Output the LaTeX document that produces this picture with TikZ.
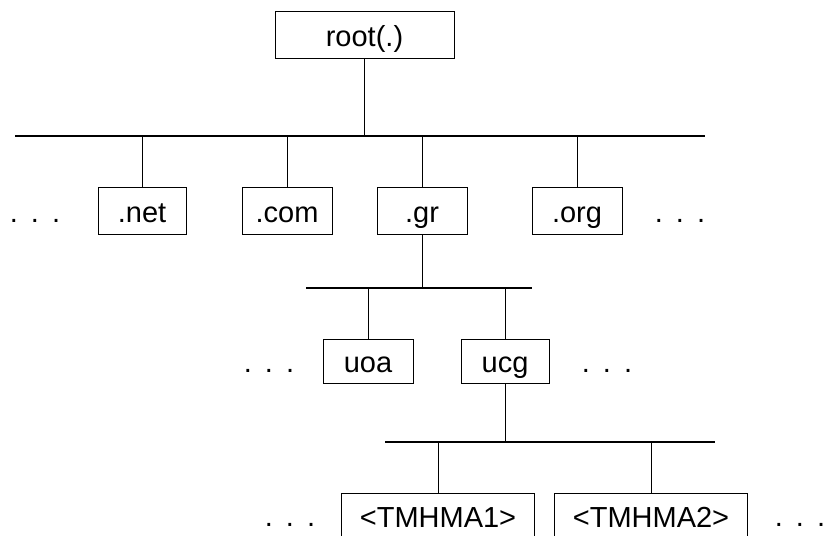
\documentclass[tikz,border=0pt]{standalone}
\usepackage{fontspec}
\setmainfont{Liberation Sans}
\usepackage{tikz}

\begin{document}
\begin{tikzpicture}[x=1pt,y=-1pt,
        dom/.style={draw,line width=1pt,minimum width=90pt,minimum height=47pt,inner sep=0pt,text height=24pt,text depth=2pt,font=\fontsize{29}{34}\selectfont},
        more/.style={inner sep=0pt,anchor=base,font=\fontsize{29}{34}\selectfont},
        bus/.style={line width=1.5pt},
        stem/.style={line width=0.9pt}]
        \useasboundingbox (0,0) rectangle (834,535);
        % root
        \node[dom,minimum width=179pt,minimum height=46pt] (root) at (364.5,35) {root(.)};
        \coordinate (b0l) at (15,136);
        \coordinate (b0r) at (705,136);
        \draw[bus] (b0l) -- (b0r);
        \draw[stem] (root) -- (root |- b0l);
        % top level
        \node[more] (dots0) at (35,222) {.\hspace{13pt}.\hspace{13pt}.};
        \node[dom,minimum width=88pt] (net) at (142,211) {.net};
        \node[dom] (com) at (287,211) {.com};
        \node[dom] (gr) at (422,211) {.gr};
        \node[dom] (org) at (577,211) {.org};
        \node[more] (dots1) at (680,222) {.\hspace{13pt}.\hspace{13pt}.};
        \draw[stem] (net) -- (net |- b0l);
        \draw[stem] (com) -- (com |- b0l);
        \draw[stem] (gr) -- (gr |- b0l);
        \draw[stem] (org) -- (org |- b0l);
        % .gr
        \coordinate (b1l) at (306,288);
        \coordinate (b1r) at (532,288);
        \draw[bus] (b1l) -- (b1r);
        \draw[stem] (gr) -- (gr |- b1l);
        \node[more] (dots2) at (269,372) {.\hspace{13pt}.\hspace{13pt}.};
        \node[dom,minimum height=44pt] (uoa) at (368,361) {uoa};
        \node[dom,minimum width=88pt,minimum height=44pt] (ucg) at (505,361) {ucg};
        \node[more] (dots3) at (607,372) {.\hspace{13pt}.\hspace{13pt}.};
        \draw[stem] (uoa) -- (uoa |- b1l);
        \draw[stem] (ucg) -- (ucg |- b1l);
        % ucg
        \coordinate (b2l) at (385,442);
        \coordinate (b2r) at (715,442);
        \draw[bus] (b2l) -- (b2r);
        \draw[stem] (ucg) -- (ucg |- b2l);
        \node[more] (dots4) at (290,526) {.\hspace{13pt}.\hspace{13pt}.};
        \node[dom,minimum width=193pt,minimum height=46pt] (t1) at (438,516) {<TMHMA1>};
        \node[dom,minimum width=193pt,minimum height=46pt] (t2) at (651,516) {<TMHMA2>};
        \node[more] (dots5) at (800,526) {.\hspace{13pt}.\hspace{13pt}.};
        \draw[stem] (t1) -- (t1 |- b2l);
        \draw[stem] (t2) -- (t2 |- b2l);
\end{tikzpicture}
\end{document}
